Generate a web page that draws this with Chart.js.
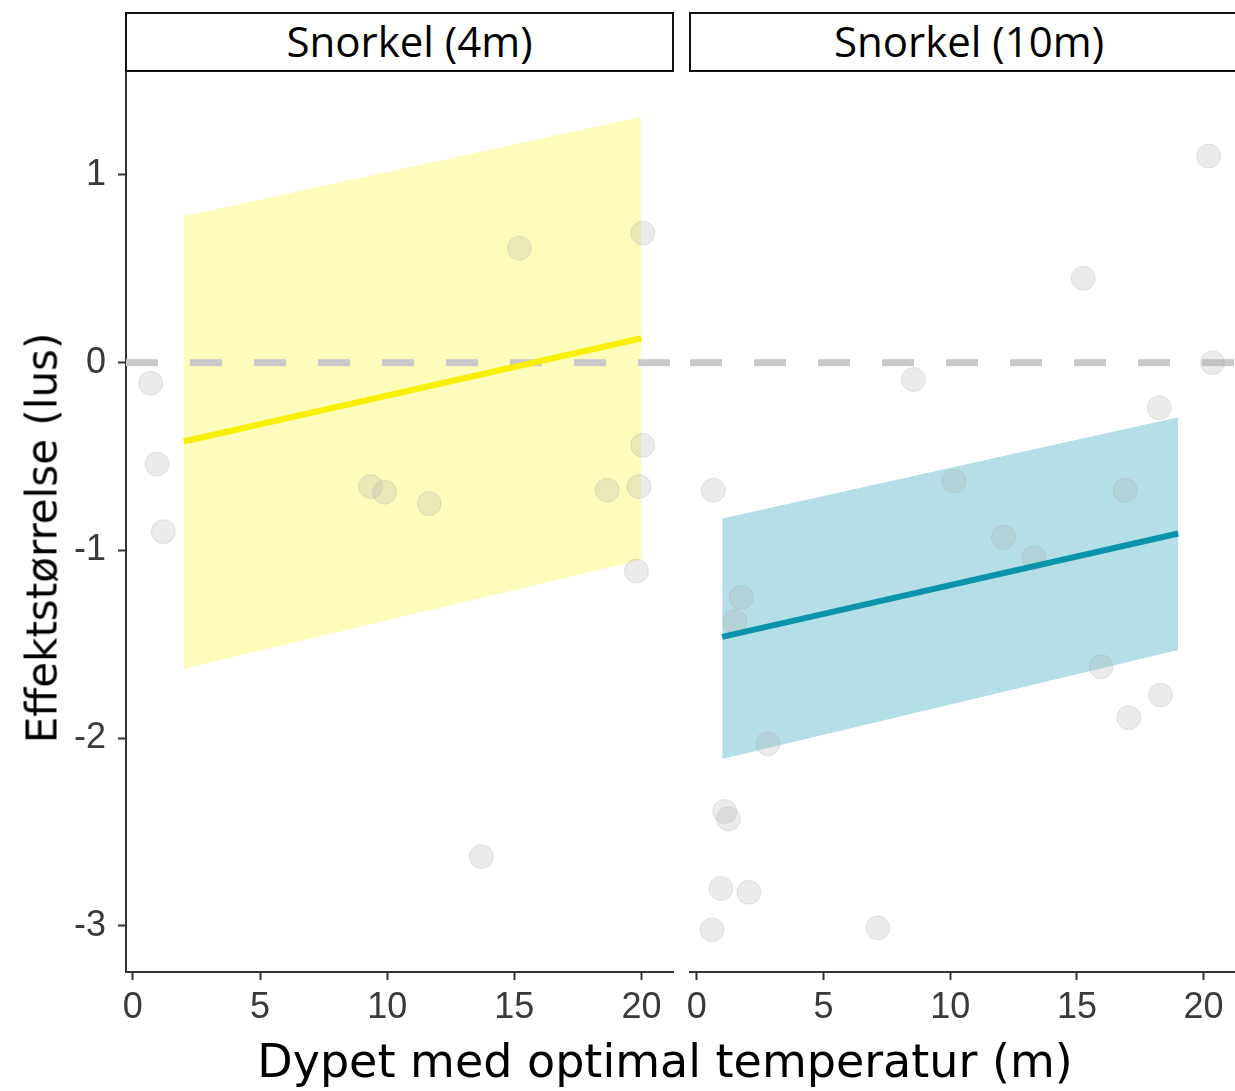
<!DOCTYPE html>
<html>
<head>
<meta charset="utf-8">
<script src="https://cdn.jsdelivr.net/npm/chart.js@4.4.1/dist/chart.umd.min.js"></script>
<style>
  body { margin: 0; background: #fff; width: 1235px; height: 1091px; overflow: hidden; position: relative; }
  canvas { position: absolute; top: 0; }
  #leftChart { left: 0; }
  #rightChart { left: 680px; }
  .strip {
    position: absolute; top: 12px; height: 60px; box-sizing: border-box;
    border: 2.5px solid #111; background: #fff; text-align: center;
    font-family: 'Open Sans', sans-serif; font-size: 42px; line-height: 54px; color: #000;
  }
  #strip1 { left: 125px; width: 549px; padding-left: 20px; }
  #strip2 { left: 689px; width: 560px; }
  .axTitle { position: absolute; font-family: 'DejaVu Sans', sans-serif; color: #000; white-space: nowrap; }
  #xTitle { left: 0; width: 1330px; top: 1034px; text-align: center; font-size: 46px; }
  #yTitle { left: 42px; top: 538px; font-size: 42px; transform: translate(-50%, -50%) rotate(-90deg); }
</style>
</head>
<body>
<canvas id="leftChart" width="680" height="1091"></canvas>
<canvas id="rightChart" width="555" height="1091"></canvas>
<div class="strip" id="strip1"></div>
<div class="strip" id="strip2"></div>
<div class="axTitle" id="xTitle"></div>
<div class="axTitle" id="yTitle"></div>
<script>
const panelNames = ['Snorkel (4m)', 'Snorkel (10m)'];
const xLabel = 'Dypet med optimal temperatur (m)';
const yLabel = 'Effektstørrelse (lus)';
const xTicks = [0, 5, 10, 15, 20];
const yTicks = [-3, -2, -1, 0, 1];
const refLine = 0;

// Snorkel (4m)
const fit4X = [2, 20];
const fit4Y = [-0.42, 0.13];
const fit4Lo = [-1.63, -1.05];
const fit4Hi = [0.78, 1.31];
const pts4X = [0.7, 0.95, 1.2, 15.2, 20.05, 9.35, 9.9, 11.65, 18.65, 20.05, 19.9, 19.8, 13.7];
const pts4Y = [-0.11, -0.54, -0.9, 0.61, 0.69, -0.66, -0.69, -0.75, -0.68, -0.44, -0.66, -1.11, -2.63];

// Snorkel (10m)
const fit10X = [1, 19];
const fit10Y = [-1.46, -0.91];
const fit10Lo = [-2.11, -1.53];
const fit10Hi = [-0.83, -0.29];
const pts10X = [20.2, 15.25, 20.35, 8.55, 18.25, 0.65, 10.15, 16.9, 12.1, 13.3, 1.75, 1.5, 15.95, 18.3, 17.05, 2.8, 1.1, 1.25, 0.95, 2.05, 0.6, 7.15];
const pts10Y = [1.1, 0.45, 0.0, -0.09, -0.24, -0.68, -0.63, -0.68, -0.93, -1.04, -1.25, -1.38, -1.62, -1.77, -1.89, -2.03, -2.39, -2.43, -2.8, -2.82, -3.02, -3.01];

const X_MIN = -0.27, X_MAX = 21.24;
const Y_MIN = -3.245, Y_MAX = 1.548;

document.getElementById('strip1').textContent = panelNames[0];
document.getElementById('strip2').textContent = panelNames[1];
document.getElementById('xTitle').textContent = xLabel;
document.getElementById('yTitle').textContent = yLabel;

const zip = (xs, ys) => xs.map((x, i) => ({ x: x, y: ys[i] }));

function makePanel(canvasId, showY, fitX, fitY, lo, hi, px, py, ribbonColor, lineColor) {
  const datasets = [
    { data: zip(fitX, hi), showLine: true, borderWidth: 0, pointRadius: 0, fill: '+1', backgroundColor: ribbonColor, order: 10 },
    { data: zip(fitX, lo), showLine: true, borderWidth: 0, pointRadius: 0, fill: false, order: 9 },
    { data: [{ x: X_MIN, y: refLine }, { x: X_MAX, y: refLine }], showLine: true, borderColor: '#c9c9c9',
      borderWidth: 7, borderDash: [32, 32], borderCapStyle: 'butt', pointRadius: 0, order: 5 },
    { data: zip(px, py), pointRadius: 12, backgroundColor: 'rgba(175,175,175,0.25)',
      borderColor: 'rgba(150,150,150,0.2)', borderWidth: 1, order: 3 },
    { data: zip(fitX, fitY), showLine: true, borderColor: lineColor, borderWidth: 6, pointRadius: 0, order: 1 }
  ];

  const axisGrid = { display: true, drawOnChartArea: false, drawTicks: true, tickLength: 8, tickColor: '#333', tickWidth: 2 };
  const tickFont = { family: 'Liberation Sans', size: 36 };

  return new Chart(document.getElementById(canvasId), {
    type: 'scatter',
    data: { datasets: datasets },
    options: {
      responsive: false,
      animation: false,
      layout: { autoPadding: false, padding: { top: 72, bottom: 69, left: showY ? 0 : 10, right: showY ? 7 : 0 } },
      plugins: { legend: { display: false }, tooltip: { enabled: false } },
      scales: {
        x: {
          type: 'linear', min: X_MIN, max: X_MAX,
          grid: axisGrid,
          border: { display: true, color: '#333', width: 2 },
          ticks: { color: '#3a3a3a', font: tickFont, padding: 6, maxRotation: 0 },
          afterBuildTicks: (axis) => { axis.ticks = xTicks.map(v => ({ value: v })); },
          afterFit: (axis) => { axis.height = 50; axis.paddingLeft = 0; axis.paddingRight = 0; }
        },
        y: {
          type: 'linear', min: Y_MIN, max: Y_MAX, display: showY,
          grid: axisGrid,
          border: { display: true, color: '#333', width: 2 },
          ticks: { color: '#3a3a3a', font: tickFont, padding: 12 },
          afterBuildTicks: (axis) => { axis.ticks = yTicks.map(v => ({ value: v })); },
          afterFit: (axis) => { axis.width = showY ? 126 : 0; axis.paddingTop = 0; axis.paddingBottom = 0; }
        }
      }
    }
  });
}

makePanel('leftChart', true, fit4X, fit4Y, fit4Lo, fit4Hi, pts4X, pts4Y, '#fdfcbb', '#f7f000');
makePanel('rightChart', false, fit10X, fit10Y, fit10Lo, fit10Hi, pts10X, pts10Y, '#b5dfe7', '#0a93ab');
</script>
</body>
</html>
